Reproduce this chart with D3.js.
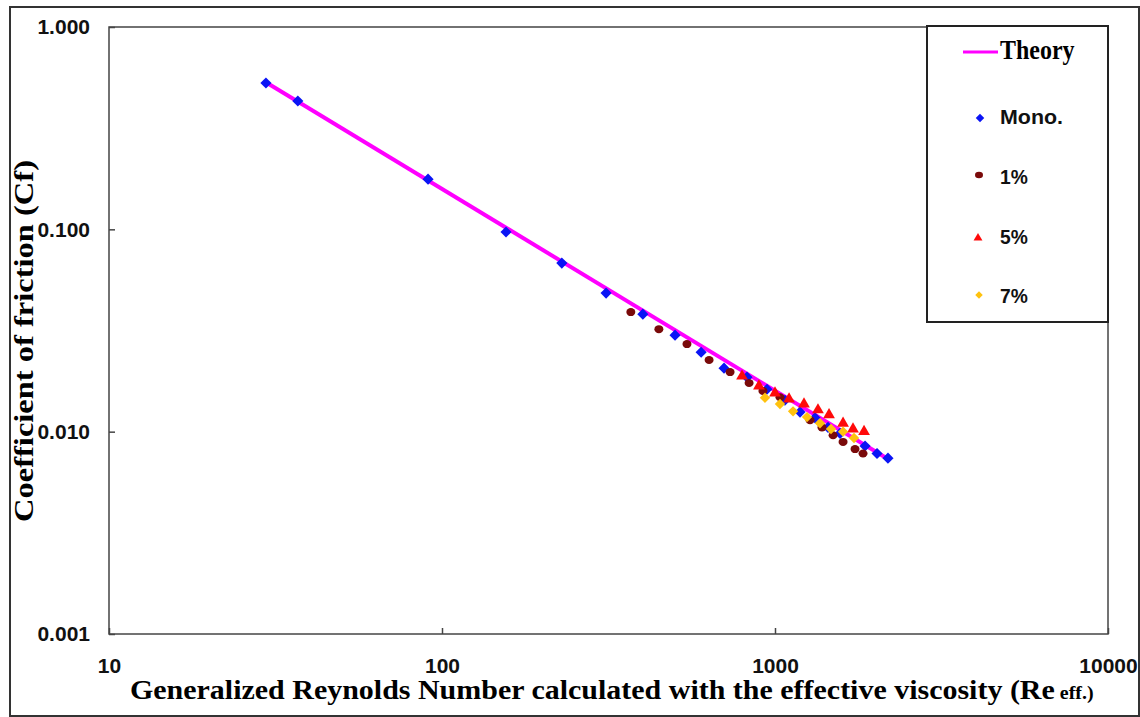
<!DOCTYPE html>
<html>
<head>
<meta charset="utf-8">
<script src="https://d3js.org/d3.v7.min.js"></script>
<style>
    body { margin: 0; background: #fff; }
    svg { display: block; }
</style>
</head>
<body>
<svg id="chart" width="1140" height="717"></svg>
<script>
    // values (Re, Cf)
    var theoryRe = [29.5, 2190];
    var theoryCf = [0.535, 0.0073];

    var monoRe = [29.6, 36.9, 90.8, 155.7, 229, 311, 401, 501, 600, 703, 824, 946, 1071, 1189, 1319, 1443, 1568, 1864, 2025, 2184];
    var monoCf = [0.529, 0.431, 0.177, 0.0970, 0.0681, 0.0484, 0.0381, 0.0300, 0.0247, 0.0206, 0.0186, 0.0162, 0.0143, 0.0125, 0.0117, 0.0105, 0.0098, 0.0085, 0.0078, 0.0074];

    var p1Re = [369, 448, 544, 634, 733, 836, 920, 1035, 1274, 1384, 1494, 1601, 1739, 1838];
    var p1Cf = [0.0390, 0.0321, 0.0271, 0.0226, 0.0197, 0.0174, 0.0159, 0.0148, 0.0114, 0.0105, 0.0096, 0.0089, 0.0082, 0.0078];

    var p5Re = [796, 895, 1000, 1102, 1222, 1346, 1453, 1601, 1715, 1851];
    var p5Cf = [0.0188, 0.0168, 0.0155, 0.0145, 0.0137, 0.0128, 0.0121, 0.0110, 0.0103, 0.0100];

    var p7Re = [933, 1035, 1133, 1248, 1365, 1473, 1601, 1727];
    var p7Cf = [0.0147, 0.0137, 0.0126, 0.0118, 0.0110, 0.0103, 0.0100, 0.0093];

    var xTicks = [10, 100, 1000, 10000];
    var yTicks = [0.001, 0.01, 0.1, 1];

    var legendLabels = ["Theory", "Mono.", "1%", "5%", "7%"];

    var svg = d3.select("#chart");
    var plot = {left: 109, right: 1108, top: 27, bottom: 634};

    var x = d3.scaleLog().domain([10, 10000]).range([plot.left, plot.right]);
    var y = d3.scaleLog().domain([0.001, 1]).range([plot.bottom, plot.top]);

    // squeeze/stretch a text to a measured width
    function fit(t, w, ax, ay) {
        var bw = t.node().getBBox().width;
        t.attr("transform", "translate(" + ax + "," + ay + ") scale(" + (w / bw) + ",1)");
    }

    // outer frame
    svg.append("rect")
        .attr("x", 10).attr("y", 7)
        .attr("width", 1129).attr("height", 709)
        .attr("fill", "none")
        .attr("stroke", "#333")
        .attr("stroke-width", 2);

    // plot frame
    svg.append("rect")
        .attr("x", plot.left).attr("y", plot.top)
        .attr("width", plot.right - plot.left)
        .attr("height", plot.bottom - plot.top)
        .attr("fill", "none")
        .attr("stroke", "#444")
        .attr("stroke-width", 1.5);

    var xAxis = g => g
        .attr("transform", `translate(0,${plot.bottom})`)
        .call(d3.axisBottom(x).tickValues(xTicks).tickFormat(d3.format("d"))
            .tickSize(-6).tickSizeOuter(0).tickPadding(24));
    var yAxis = g => g
        .attr("transform", `translate(${plot.left},0)`)
        .call(d3.axisLeft(y).tickValues(yTicks).tickFormat(d3.format(".3f"))
            .tickSize(-6).tickSizeOuter(0).tickPadding(19));

    [xAxis, yAxis].forEach(function(ax) {
        var g = svg.append("g").call(ax);
        g.select(".domain").remove();
        g.selectAll(".tick line").attr("stroke", "#444").attr("stroke-width", 1.5);
        g.selectAll(".tick text")
            .attr("fill", "#111")
            .style("font-family", "'Liberation Sans', Arial, sans-serif")
            .style("font-weight", "bold")
            .style("font-size", "21px");
    });

    // theory line
    var line = d3.line().x(d => x(d[0])).y(d => y(d[1]));
    svg.append("path")
        .datum(d3.zip(theoryRe, theoryCf))
        .attr("d", line)
        .attr("fill", "none")
        .attr("stroke", "#ff00ff")
        .attr("stroke-width", 4);

    var diamond = d3.symbol().type(d3.symbolSquare).size(62)();
    var diamondSm = d3.symbol().type(d3.symbolSquare).size(54)();
    var tri = d3.symbol().type(d3.symbolTriangle).size(60)();

    function points(re, cf, color, shape, rot) {
        svg.append("g")
            .selectAll("path")
            .data(d3.zip(re, cf))
            .join("path")
            .attr("d", shape)
            .attr("transform", d => `translate(${x(d[0])},${y(d[1])}) rotate(${rot})`)
            .attr("fill", color);
    }

    points(monoRe, monoCf, "#0a14f5", diamond, 45);
    svg.append("g")
        .selectAll("ellipse")
        .data(d3.zip(p1Re, p1Cf))
        .join("ellipse")
        .attr("cx", d => x(d[0]))
        .attr("cy", d => y(d[1]))
        .attr("rx", 4.5).attr("ry", 4)
        .attr("fill", "#7a0a0a");
    points(p5Re, p5Cf, "#ff0a0a", tri, 0);
    points(p7Re, p7Cf, "#ffc20e", diamondSm, 45);

    // legend
    var leg = svg.append("g");
    leg.append("rect")
        .attr("x", 927).attr("y", plot.top - 1)
        .attr("width", plot.right - 927).attr("height", 322 - plot.top + 1)
        .attr("fill", "#fff")
        .attr("stroke", "#222")
        .attr("stroke-width", 2);

    leg.append("line")
        .attr("x1", 963).attr("x2", 998)
        .attr("y1", 52).attr("y2", 52)
        .attr("stroke", "#ff00ff").attr("stroke-width", 3);

    var th = leg.append("text")
        .text(legendLabels[0])
        .attr("fill", "#000")
        .style("font-family", "'Liberation Serif', 'Times New Roman', serif")
        .style("font-weight", "bold")
        .style("font-size", "27px");
    fit(th, 75, 1000, 59);

    var legItems = [
        {label: legendLabels[1], y: 118, base: 124, w: 63},
        {label: legendLabels[2], y: 175, base: 184, w: 28},
        {label: legendLabels[3], y: 237, base: 244, w: 28},
        {label: legendLabels[4], y: 295, base: 303, w: 28}
    ];
    leg.append("path")
        .attr("d", d3.symbol().type(d3.symbolSquare).size(36)())
        .attr("transform", "translate(980,118) rotate(45)")
        .attr("fill", "#0a14f5");
    leg.append("ellipse")
        .attr("cx", 979).attr("cy", 175).attr("rx", 4).attr("ry", 3.3)
        .attr("fill", "#7a0a0a");
    leg.append("path")
        .attr("d", d3.symbol().type(d3.symbolTriangle).size(34)())
        .attr("transform", "translate(978,238)")
        .attr("fill", "#ff0a0a");
    leg.append("path")
        .attr("d", d3.symbol().type(d3.symbolSquare).size(28)())
        .attr("transform", "translate(979,295) rotate(45)")
        .attr("fill", "#ffc20e");

    legItems.forEach(function(it) {
        var t = leg.append("text")
            .text(it.label)
            .attr("fill", "#111")
            .style("font-family", "'Liberation Sans', Arial, sans-serif")
            .style("font-weight", "bold")
            .style("font-size", "20px");
        fit(t, it.w, 1000, it.base);
    });

    // axis titles
    var xt = svg.append("text")
        .attr("fill", "#000")
        .style("font-family", "'Liberation Serif', 'Times New Roman', serif")
        .style("font-weight", "bold")
        .style("font-size", "27px");
    xt.append("tspan").text("Generalized Reynolds Number calculated with the effective viscosity (Re");
    xt.append("tspan").text(" eff.)").style("font-size", "18px");
    fit(xt, 964, 130, 699);

    var yt = svg.append("text")
        .text("Coefficient of friction (Cf)")
        .attr("fill", "#000")
        .attr("text-anchor", "middle")
        .style("font-family", "'Liberation Serif', 'Times New Roman', serif")
        .style("font-weight", "bold")
        .style("font-size", "27px");
    var yw = yt.node().getBBox().width;
    yt.attr("transform", "translate(33,341) rotate(-90) scale(" + (362 / yw) + ",1)");
</script>
</body>
</html>
